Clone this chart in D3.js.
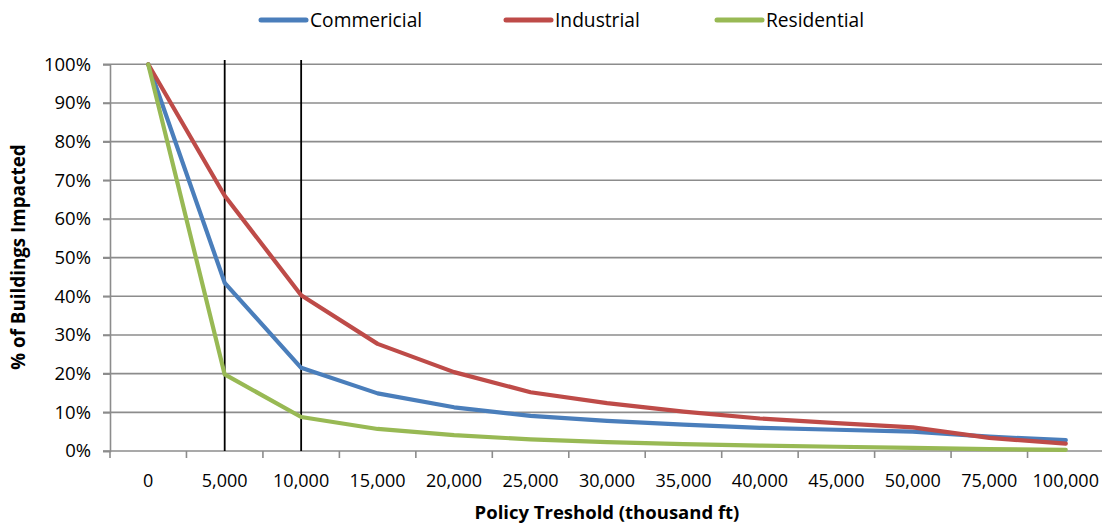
<!DOCTYPE html>
<html>
<head>
<meta charset="utf-8">
<script src="https://cdn.jsdelivr.net/npm/d3@7"></script>
<style>
  body { margin: 0; background: #fff; }
  svg { display: block; font-family: "Open Sans", "Noto Sans", sans-serif; }
</style>
</head>
<body>
<svg id="chart" width="1102" height="526"></svg>
<script>
// Policy threshold categories (thousand ft)
const categories = ["0", "5,000", "10,000", "15,000", "20,000", "25,000", "30,000",
                    "35,000", "40,000", "45,000", "50,000", "75,000", "100,000"];

// Share of buildings impacted (%) per building type
const commercial  = [100, 43.5, 21.5, 14.9, 11.3, 9.1, 7.8, 6.8, 6.0, 5.5, 5.0, 3.7, 2.8];
const industrial  = [100, 66.0, 40.3, 27.7, 20.4, 15.2, 12.4, 10.2, 8.4, 7.2, 6.1, 3.4, 1.9];
const residential = [100, 19.8, 8.8, 5.7, 4.1, 3.0, 2.3, 1.8, 1.4, 1.1, 0.8, 0.5, 0.3];

const yTicks = [0, 10, 20, 30, 40, 50, 60, 70, 80, 90, 100];

// Thresholds highlighted with vertical markers
const markers = ["5,000", "10,000"];

const series = [
  { name: "Commericial", values: commercial,  color: "#4a7ebb" },
  { name: "Industrial",  values: industrial,  color: "#be4b48" },
  { name: "Residential", values: residential, color: "#98b954" }
];

const svg = d3.select("#chart");
const margin = { left: 110, right: -2, top: 64.3, bottom: 75 };
const W = 1102, H = 526;

const x = d3.scaleBand().domain(categories)
  .range([margin.left, W - margin.right]).paddingInner(0).paddingOuter(0);
const y = d3.scaleLinear().domain([0, 100]).range([451, 64.3]);

const gridColor = "#8c8c8c";

// Horizontal gridlines
svg.append("g").selectAll("line").data(yTicks.filter(d => d > 0)).join("line")
  .attr("x1", margin.left - 7).attr("x2", W)
  .attr("y1", d => y(d)).attr("y2", d => y(d))
  .attr("stroke", gridColor).attr("stroke-width", 1.6);

// Y axis
const yAxis = svg.append("g").attr("transform", `translate(${margin.left},0)`)
  .call(d3.axisLeft(y).tickValues(yTicks).tickFormat(d => d + "%").tickSize(7).tickPadding(12));
yAxis.select(".domain").attr("stroke", gridColor).attr("stroke-width", 1.6);
yAxis.selectAll(".tick line").attr("stroke", gridColor).attr("stroke-width", 1.6);
yAxis.selectAll("text").attr("font-size", 18.5).attr("fill", "#000")
  .attr("font-family", "'Open Sans', sans-serif");

// X axis: ticks sit on band boundaries, labels at band centres
const xAxisG = svg.append("g").attr("transform", `translate(0,${y(0)})`);
xAxisG.append("line").attr("x1", margin.left - 7).attr("x2", W)
  .attr("stroke", gridColor).attr("stroke-width", 1.6);
const boundaries = categories.map(c => x(c)).concat([x(categories[categories.length - 1]) + x.bandwidth()]);
xAxisG.selectAll("line.tk").data(boundaries).join("line").attr("class", "tk")
  .attr("x1", d => d).attr("x2", d => d).attr("y1", 0).attr("y2", 7)
  .attr("stroke", gridColor).attr("stroke-width", 1.6);
xAxisG.selectAll("text").data(categories).join("text")
  .attr("x", d => x(d) + x.bandwidth() / 2).attr("y", 36)
  .attr("text-anchor", "middle").attr("font-size", 18).attr("fill", "#000")
  .text(d => d);

// Vertical marker lines
svg.append("g").selectAll("line").data(markers).join("line")
  .attr("x1", d => x(d) + x.bandwidth() / 2).attr("x2", d => x(d) + x.bandwidth() / 2)
  .attr("y1", 60).attr("y2", y(0))
  .attr("stroke", "#000").attr("stroke-width", 1.8);

// Series lines
const line = d3.line()
  .x((d, i) => x(categories[i]) + x.bandwidth() / 2)
  .y(d => y(d));

svg.append("g").selectAll("path").data(series).join("path")
  .attr("d", d => line(d.values))
  .attr("fill", "none").attr("stroke", d => d.color)
  .attr("stroke-width", 4.2).attr("stroke-linejoin", "round").attr("stroke-linecap", "round");

// Legend
const legendX = [261, 506, 717];
const legend = svg.append("g").selectAll("g").data(series).join("g")
  .attr("transform", (d, i) => `translate(${legendX[i]},20)`);
legend.append("line").attr("x1", 0).attr("x2", 45)
  .attr("stroke", d => d.color).attr("stroke-width", 5).attr("stroke-linecap", "round");
legend.append("text").attr("x", 49).attr("y", 7).attr("font-size", 19.2).attr("fill", "#000")
  .text(d => d.name);

// Axis titles
svg.append("text").attr("x", 607).attr("y", 519).attr("text-anchor", "middle")
  .attr("font-size", 18.5).attr("font-weight", "bold").text("Policy Treshold (thousand ft)");
svg.append("text").attr("transform", "translate(25,257) rotate(-90)").attr("text-anchor", "middle")
  .attr("font-size", 18.8).attr("font-weight", "bold").text("% of Buildings Impacted");
</script>
</body>
</html>
